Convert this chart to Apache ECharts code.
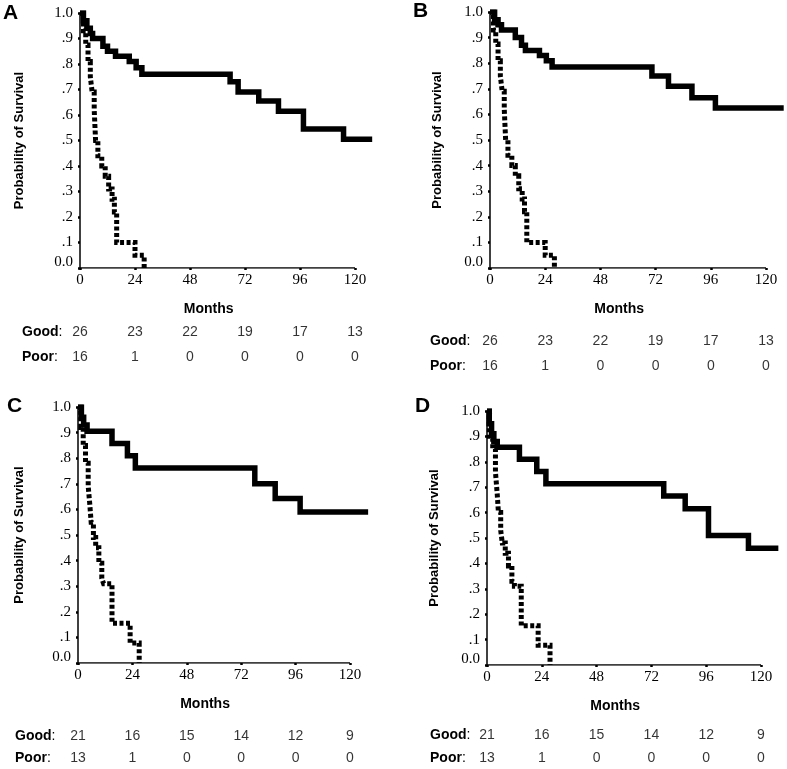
<!DOCTYPE html>
<html>
<head>
<meta charset="utf-8">
<script src="https://cdn.jsdelivr.net/npm/echarts@6/dist/echarts.min.js"></script>
<style>
html,body{margin:0;padding:0;background:#fff;}
#chart{width:787px;height:769px;}
</style>
</head>
<body>
<div id="chart"></div>
<script>
// ---------- data ----------
const monthTicks = [0, 24, 48, 72, 96, 120];
const monthRangeMax = 128;           // follow-up extends past the last tick
const riskRows = ['Good', 'Poor'];
const riskGoodAB = [26, 23, 22, 19, 17, 13];
const riskPoorAB = [16, 1, 0, 0, 0, 0];
const riskGoodCD = [21, 16, 15, 14, 12, 9];
const riskPoorCD = [13, 1, 0, 0, 0, 0];

// Kaplan-Meier steps: [month, survival]
const goodA = [[0,1],[1.5,.97],[3,.94],[4.5,.92],[5.5,.90],[10,.87],[12,.85],[15.5,.83],[21.5,.81],[24.5,.785],[27,.76],[65.5,.73],[69,.69],[78,.655],[86.6,.615],[97.5,.545],[115,.505],[127.5,.505]];
const poorA = [[0,1],[1.5,.93],[2.5,.875],[3.5,.81],[4.5,.75],[5.3,.69],[6.2,.62],[6.8,.50],[7.8,.44],[9.5,.40],[11,.36],[12.5,.31],[14,.27],[15,.22],[16,.10],[24,.05],[28,0]];
const goodB = [[0,1],[2,.97],[3.5,.95],[5,.93],[11,.90],[13.7,.87],[15.4,.85],[21.5,.83],[24.5,.81],[27,.785],[70.4,.75],[77.6,.71],[87.8,.665],[98,.625],[127.7,.625]];
const poorB = [[0,1],[1.5,.93],[2.5,.875],[3.5,.81],[4.5,.75],[5.3,.69],[6.2,.62],[6.8,.50],[7.8,.44],[9.5,.40],[11,.36],[12.5,.31],[14,.27],[15,.22],[16,.10],[24,.05],[28,0]];
const goodC = [[0,1],[1.5,.96],[2.5,.93],[4,.905],[15,.857],[21.8,.81],[25.3,.762],[78,.70],[87,.643],[98,.59],[128,.59]];
const poorC = [[0,1],[1.2,.92],[2.3,.85],[3.3,.78],[4.5,.69],[5.2,.62],[5.8,.55],[6.8,.49],[7.8,.45],[9.2,.39],[10.5,.33],[11.3,.31],[15,.155],[23,.078],[27,0]];
const goodD = [[0,1],[1,.95],[2,.91],[3,.88],[4.5,.857],[14.2,.81],[21.8,.762],[25.8,.714],[77.4,.665],[86.8,.615],[97,.51],[114.5,.46],[127.6,.46]];
const poorD = [[0,1],[1,.89],[2.5,.85],[3.7,.76],[4.5,.67],[5,.60],[6,.53],[6.7,.48],[8,.44],[9.4,.39],[10.9,.33],[12,.31],[15,.155],[22.4,.078],[27.6,0]];

const panelLetters = ['A', 'B', 'C', 'D'];
const yTitle = 'Probability of Survival';
const xTitle = 'Months';

// ---------- layout ----------
const SANS = '"Liberation Sans", Arial, sans-serif';
const SERIF = '"Liberation Serif", "Times New Roman", serif';
// w120 = pixel width from month 0 to month 120
const panels = [
  {good: goodA, poor: poorA, rg: riskGoodAB, rp: riskPoorAB, left: 80, top: 13, w120: 275, height: 255, table: {top: 319.5, height: 50}, lblMargin: 58, letter: [3, 3], yGap: 54},
  {good: goodB, poor: poorB, rg: riskGoodAB, rp: riskPoorAB, left: 490, top: 12, w120: 276, height: 256, table: {top: 328, height: 51}, lblMargin: 60, letter: [413, 1], yGap: 46},
  {good: goodC, poor: poorC, rg: riskGoodCD, rp: riskPoorCD, left: 78, top: 407, w120: 272, height: 256, table: {top: 725.5, height: 46}, lblMargin: 63, letter: [7, 396], yGap: 52},
  {good: goodD, poor: poorD, rg: riskGoodCD, rp: riskPoorCD, left: 487, top: 411, w120: 274, height: 254, table: {top: 724, height: 48}, lblMargin: 57, letter: [415, 396], yGap: 46}
];

const grid = [], xAxis = [], yAxis = [], series = [], graphic = [];
const lastTick = monthTicks[monthTicks.length - 1];

panels.forEach((p, i) => {
  const fullW = p.w120 * monthRangeMax / lastTick;
  grid.push({left: p.left, top: p.top, width: fullW, height: p.height});
  xAxis.push({
    type: 'value', gridIndex: i, min: 0, max: monthRangeMax,
    axisLine: {show: false}, splitLine: {show: false},
    axisTick: {show: true, length: 2, customValues: monthTicks, lineStyle: {color: '#000', width: 2.5}},
    axisLabel: {color: '#000', fontFamily: SERIF, fontSize: 15, margin: 5, customValues: monthTicks},
    name: xTitle, nameLocation: 'middle', nameGap: 34,
    nameTextStyle: {color: '#000', fontFamily: SANS, fontSize: 14, fontWeight: 'bold', padding: [0, 36, 0, 0]}
  });
  yAxis.push({
    type: 'value', gridIndex: i, min: 0, max: 1, interval: 0.1,
    axisLine: {show: true, lineStyle: {color: '#000', width: 1.5}}, splitLine: {show: false},
    axisTick: {show: true, length: 2, lineStyle: {color: '#000', width: 2.5}},
    axisLabel: {
      color: '#000', fontFamily: SERIF, fontSize: 15, margin: 7,
      formatter: v => {
        const k = Math.round(v * 10);
        if (k === 10) return '1.0';
        if (k === 0) return '{z|0.0}';
        return '.' + k;
      },
      rich: {z: {fontFamily: SERIF, fontSize: 15, color: '#000', padding: [0, 0, 12, 0]}}
    },
    name: yTitle, nameLocation: 'middle', nameGap: p.yGap, nameRotate: 90,
    nameTextStyle: {color: '#000', fontFamily: SANS, fontSize: 13, fontWeight: 'bold'}
  });
  // x axis baseline, from first to last tick
  series.push({
    type: 'line', xAxisIndex: i, yAxisIndex: i, data: [[monthTicks[0], 0], [lastTick, 0]],
    showSymbol: false, symbol: 'none', silent: true, z: 1,
    lineStyle: {color: '#000', width: 1.5}
  });
  series.push({
    type: 'line', xAxisIndex: i, yAxisIndex: i, data: p.good, step: 'end',
    showSymbol: false, symbol: 'none', silent: true, z: 3,
    lineStyle: {color: '#000', width: 5.5, cap: 'butt', join: 'miter'}
  });
  series.push({
    type: 'line', xAxisIndex: i, yAxisIndex: i, data: p.poor, step: 'end',
    showSymbol: false, symbol: 'none', silent: true, z: 3,
    lineStyle: {color: '#000', width: 5, type: [4, 2.5], cap: 'butt', join: 'miter'}
  });
  graphic.push({
    type: 'text', left: p.letter[0], top: p.letter[1],
    style: {text: panelLetters[i], font: 'bold 21px ' + SANS, fill: '#000'}
  });
});

panels.forEach((p, i) => {
  const gi = 4 + i;
  grid.push({left: p.left, top: p.table.top, width: p.w120, height: p.table.height});
  xAxis.push({type: 'value', gridIndex: gi, min: 0, max: lastTick, show: false});
  yAxis.push({
    type: 'category', gridIndex: gi, data: riskRows, inverse: true,
    axisLine: {show: false}, axisTick: {show: false}, splitLine: {show: false},
    axisLabel: {
      align: 'left', margin: p.lblMargin, color: '#000', fontFamily: SANS, fontSize: 14,
      formatter: v => '{b|' + v + '}:',
      rich: {b: {fontWeight: 'bold', fontFamily: SANS, fontSize: 14, color: '#000'}}
    }
  });
  const data = [];
  monthTicks.forEach((m, j) => {
    data.push([m, riskRows[0], p.rg[j]]);
    data.push([m, riskRows[1], p.rp[j]]);
  });
  series.push({
    type: 'scatter', xAxisIndex: gi, yAxisIndex: gi, data: data, symbolSize: 1,
    itemStyle: {color: 'rgba(0,0,0,0)'}, silent: true,
    label: {show: true, position: 'inside', color: '#000', fontFamily: SANS, fontSize: 14,
      formatter: q => String(q.value[2])}
  });
});

const chart = echarts.init(document.getElementById('chart'), null, {renderer: 'canvas'});
chart.setOption({
  animation: false,
  backgroundColor: '#fff',
  grid: grid, xAxis: xAxis, yAxis: yAxis, series: series, graphic: graphic
});
</script>
</body>
</html>
